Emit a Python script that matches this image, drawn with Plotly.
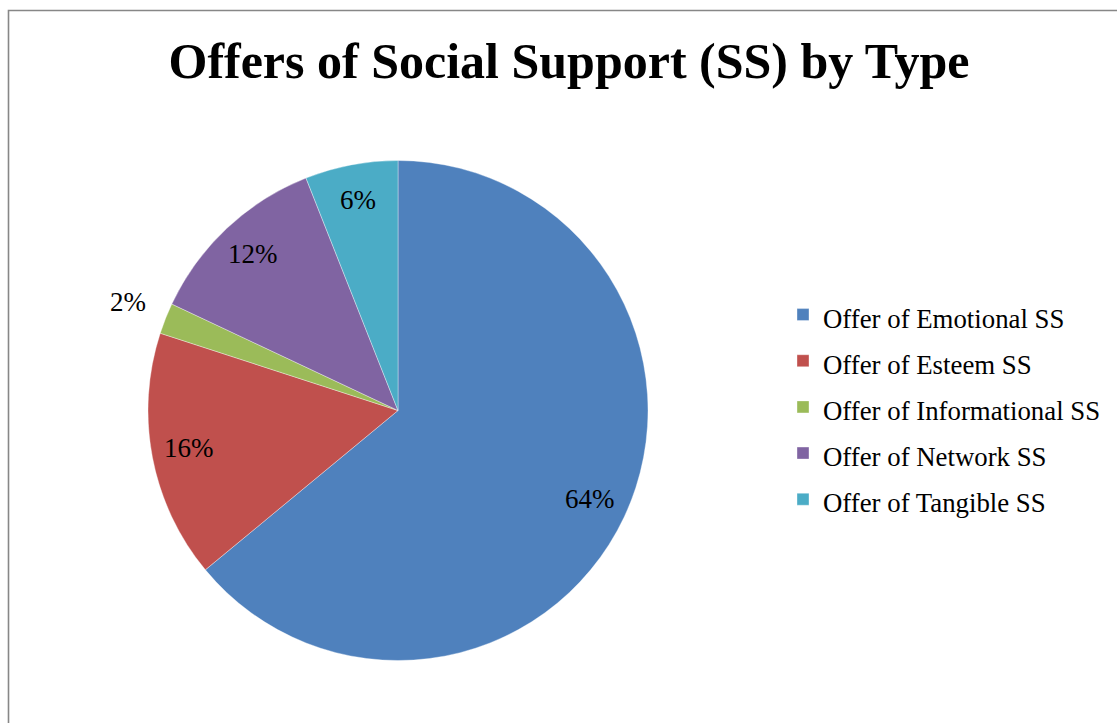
import math
import plotly.graph_objects as go

# Share of each type of social-support offer (percent)
categories = [
    "Offer of Emotional SS",
    "Offer of Esteem SS",
    "Offer of Informational SS",
    "Offer of Network SS",
    "Offer of Tangible SS",
]
shares = [64, 16, 2, 12, 6]
colors = ["#4F81BD", "#C0504D", "#9BBB59", "#8064A2", "#4BACC6"]

W, H = 1117, 723
SERIF = "Liberation Serif"

# pie placement (pixels): centre and radius
CX, CY, R = 398, 410.5, 250

legend_names = [
    f"<span style='font-size:26.8px'>{c}</span>" for c in categories
]

fig = go.Figure(
    go.Pie(
        labels=legend_names,
        values=shares,
        sort=False,
        direction="clockwise",
        rotation=0,
        marker=dict(colors=colors, line=dict(color="rgba(255,255,255,0.6)", width=0.6)),
        textinfo="none",
        hovertext=categories,
        hoverinfo="text+percent",
        domain=dict(x=[(CX - R) / W, (CX + R) / W], y=[1 - (CY + R) / H, 1 - (CY - R) / H]),
    )
)

# percentage labels, placed along the middle angle of each slice
# (small slices get their label just outside the rim)
total = sum(shares)
annotations = []
cum = 0
for v in shares:
    mid = (cum + v / 2) / total * 2 * math.pi
    cum += v
    frac = v / total
    rf = 1.16 if frac < 0.04 else 0.85
    px = CX + rf * R * math.sin(mid)
    py = CY - rf * R * math.cos(mid)
    annotations.append(
        dict(
            x=px / W,
            y=1 - (py - 2) / H,
            xref="paper",
            yref="paper",
            text=f"{round(frac * 100)}%",
            showarrow=False,
            xanchor="center",
            yanchor="middle",
            font=dict(family=SERIF, size=27, color="black"),
        )
    )

fig.update_layout(
    width=W,
    height=H,
    margin=dict(l=0, r=0, t=0, b=0),
    paper_bgcolor="white",
    plot_bgcolor="white",
    title=dict(
        text="<b>Offers of Social Support (SS) by Type</b>",
        font=dict(family=SERIF, size=50, color="black"),
        x=569 / W,
        xanchor="center",
        y=1 - 60 / H,
        yanchor="middle",
        xref="paper",
        yref="paper",
    ),
    legend=dict(
        x=783 / W,
        xanchor="left",
        y=1 - 407 / H,
        yanchor="middle",
        font=dict(family=SERIF, size=33.2, color="black"),
        itemwidth=30,
        bgcolor="rgba(0,0,0,0)",
    ),
    annotations=annotations,
    shapes=[
        dict(
            type="rect",
            xref="paper",
            yref="paper",
            x0=8.5 / W,
            x1=1.05,
            y0=-0.05,
            y1=1 - 10.5 / H,
            line=dict(color="#878787", width=1.6),
            fillcolor="rgba(0,0,0,0)",
        )
    ],
)

fig.write_html("out.html")
